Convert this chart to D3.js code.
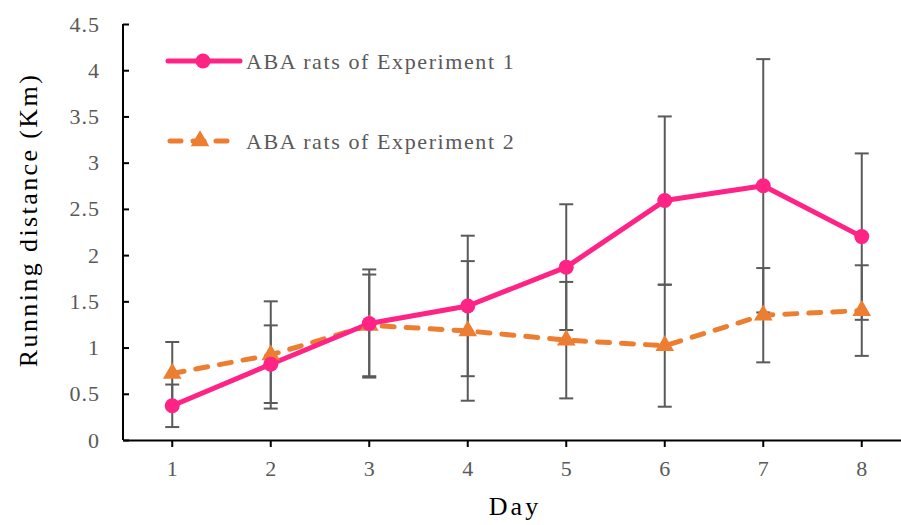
<!DOCTYPE html>
<html>
<head>
<meta charset="utf-8">
<script src="https://cdn.jsdelivr.net/npm/d3@7"></script>
<style>
  body { margin: 0; background: #fff; }
  svg { display: block; }
  svg text { font-family: "Liberation Serif", "DejaVu Serif", serif; }
</style>
</head>
<body>
<div id="chart"></div>
<script>
var days = ["1", "2", "3", "4", "5", "6", "7", "8"];
var exp1 = [0.37, 0.82, 1.26, 1.45, 1.87, 2.59, 2.75, 2.20];
var exp1Err = [0.23, 0.42, 0.585, 0.76, 0.68, 0.91, 1.37, 0.90];
var exp2 = [0.72, 0.92, 1.24, 1.18, 1.08, 1.02, 1.35, 1.40];
var exp2Err = [0.34, 0.58, 0.55, 0.755, 0.63, 0.66, 0.51, 0.49];
var yTicks = [0, 0.5, 1, 1.5, 2, 2.5, 3, 3.5, 4, 4.5];
var seriesNames = ["ABA rats of Experiment 1", "ABA rats of Experiment 2"];

var W = 901, H = 525;
var margin = {top: 24, right: -10, bottom: 85, left: 123};
var width = W - margin.left - margin.right,
    height = H - margin.top - margin.bottom;

var pink = "#FF2385", orange = "#ED7D31", grey = "#595959", barGrey = "#5a5a5a";

var svg = d3.select("#chart").append("svg").attr("width", W).attr("height", H)
  .append("g").attr("transform", "translate(" + margin.left + "," + margin.top + ")");

var x = d3.scaleBand().domain(days).range([0, width]);
var y = d3.scaleLinear().domain([0, 4.5]).range([height, 0]);
var cx = function(i) { return x(days[i]) + x.bandwidth() / 2; };

// y axis (ticks inward)
var yAxis = svg.append("g").call(d3.axisRight(y).tickValues(yTicks).tickSize(6).tickFormat(d3.format("")));
yAxis.attr("font-family", null);
yAxis.select(".domain").attr("stroke", "#000").attr("stroke-width", 2).attr("d", "M0,0V" + height);
yAxis.selectAll(".tick line").attr("stroke", "#000").attr("stroke-width", 2);
yAxis.selectAll(".tick text").attr("x", -23).attr("text-anchor", "end")
  .attr("fill", grey).style("font-size", "22px").style("letter-spacing", "1px");

// x axis
var xAxis = svg.append("g").attr("transform", "translate(0," + height + ")")
  .call(d3.axisBottom(x).tickSize(7).tickSizeOuter(0));
xAxis.attr("font-family", null);
xAxis.select(".domain").attr("stroke", "#000").attr("stroke-width", 2);
xAxis.selectAll(".tick line").attr("stroke", "#000").attr("stroke-width", 2);
xAxis.selectAll(".tick text").attr("y", 20).attr("fill", grey).style("font-size", "22px");

// error bars
function errorBars(vals, errs) {
  var g = svg.append("g");
  vals.forEach(function(v, i) {
    var x0 = cx(i), hi = y(v + errs[i]), lo = y(v - errs[i]);
    g.append("line").attr("x1", x0).attr("x2", x0).attr("y1", hi).attr("y2", lo)
      .attr("stroke", barGrey).attr("stroke-width", 2);
    [hi, lo].forEach(function(yy) {
      g.append("line").attr("x1", x0 - 7).attr("x2", x0 + 7).attr("y1", yy).attr("y2", yy)
        .attr("stroke", barGrey).attr("stroke-width", 2);
    });
  });
}
errorBars(exp2, exp2Err);
errorBars(exp1, exp1Err);

var line = d3.line().x(function(d, i) { return cx(i); }).y(function(d) { return y(d); });

svg.append("path").datum(exp2).attr("d", line).attr("fill", "none")
  .attr("stroke", orange).attr("stroke-width", 5).attr("stroke-dasharray", "12,12")
  .attr("stroke-linecap", "round");
svg.append("path").datum(exp1).attr("d", line).attr("fill", "none")
  .attr("stroke", pink).attr("stroke-width", 5).attr("stroke-linejoin", "round");

var tri = d3.symbol().type(d3.symbolTriangle).size(150);
svg.selectAll(".tri").data(exp2).enter().append("path")
  .attr("transform", function(d, i) { return "translate(" + cx(i) + "," + y(d) + ")"; })
  .attr("d", tri).attr("fill", orange);
svg.selectAll(".dot").data(exp1).enter().append("circle")
  .attr("cx", function(d, i) { return cx(i); }).attr("cy", function(d) { return y(d); })
  .attr("r", 7.5).attr("fill", pink);

// legend
var leg1 = svg.append("g").attr("transform", "translate(45,37)");
leg1.append("line").attr("x1", 0).attr("x2", 72).attr("stroke", pink).attr("stroke-width", 5)
  .attr("stroke-linecap", "round");
leg1.append("circle").attr("cx", 35).attr("r", 7.5).attr("fill", pink);
leg1.append("text").attr("x", 78).attr("dy", "0.35em").attr("fill", grey)
  .style("font-size", "22px").style("letter-spacing", "1.6px").text(seriesNames[0]);

var leg2 = svg.append("g").attr("transform", "translate(45,117)");
leg2.append("line").attr("x1", 2).attr("x2", 64).attr("stroke", orange).attr("stroke-width", 5)
  .attr("stroke-dasharray", "11,12").attr("stroke-linecap", "round");
leg2.append("path").attr("transform", "translate(32,0)").attr("d", tri).attr("fill", orange);
leg2.append("text").attr("x", 78).attr("dy", "0.35em").attr("fill", grey)
  .style("font-size", "22px").style("letter-spacing", "1.6px").text(seriesNames[1]);

// axis titles
svg.append("text").attr("x", 515 - margin.left).attr("y", height + 75).attr("text-anchor", "middle")
  .style("font-size", "26px").style("letter-spacing", "3px").attr("fill", "#000").text("Day");
svg.append("text").attr("transform", "translate(" + (37 - margin.left) + "," + (220 - margin.top) + ") rotate(-90)")
  .attr("text-anchor", "middle").style("font-size", "26px").style("letter-spacing", "2.4px")
  .attr("fill", "#000").text("Running distance (Km)");
</script>
</body>
</html>
